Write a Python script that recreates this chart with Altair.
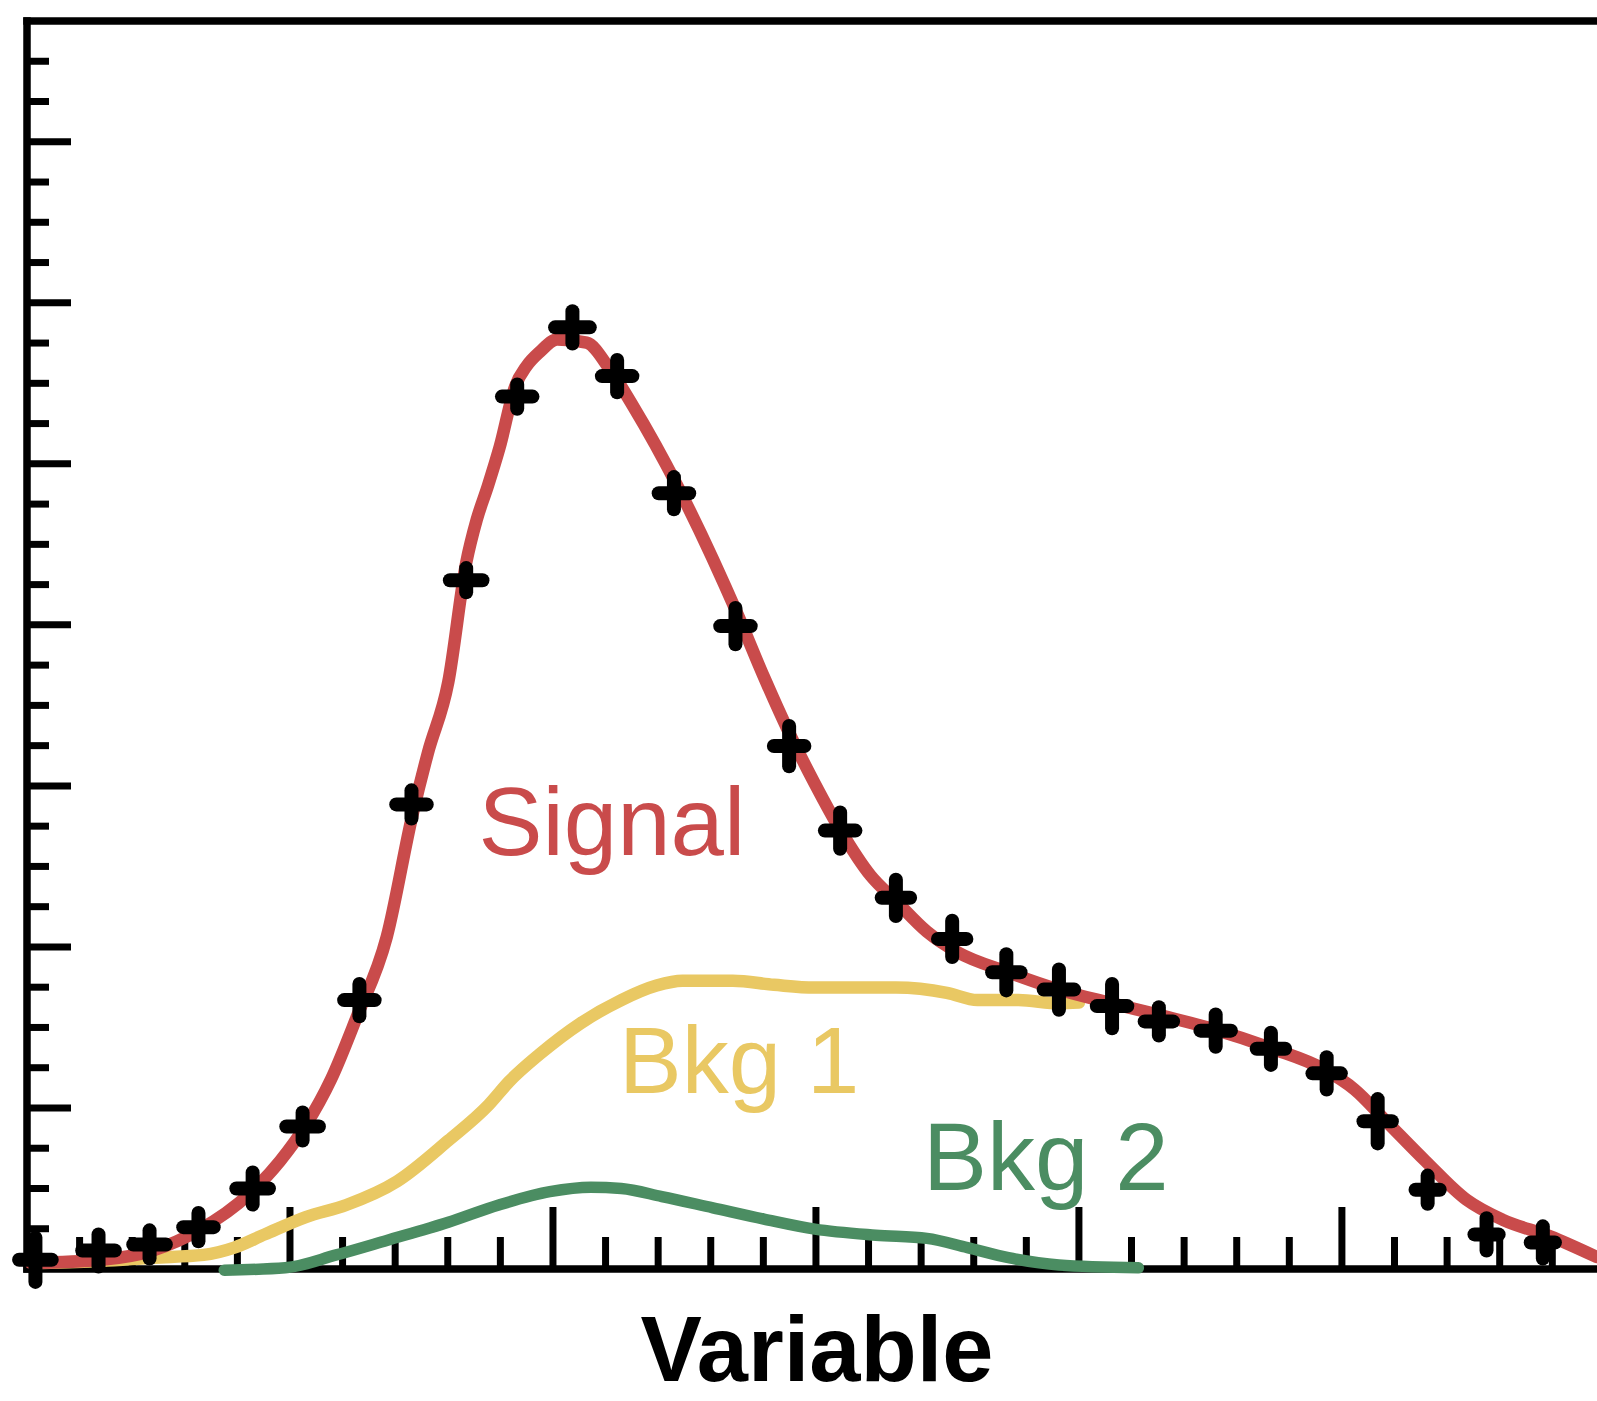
import altair as alt
import pandas as pd

# ---------------- data ----------------
X_MAX = 29.85
Y_MAX = 31.0

signal_x = [0.07, 1.42, 2.39, 3.26, 4.23, 4.81, 5.30, 5.78, 6.26, 6.84, 7.33, 7.62, 8.01,
            8.35, 8.55, 8.76, 8.99, 9.28, 9.50, 9.75, 10.08, 10.64, 11.08, 11.53, 12.37,
            13.52, 14.01, 14.49, 14.98, 15.46, 16.04, 16.52, 17.11, 17.69, 18.66,
            19.62, 20.59, 21.56, 22.53, 23.69, 24.66, 25.24, 25.82, 26.59, 27.37, 28.06,
            28.96, 29.84]
signal_y = [0.15, 0.23, 0.46, 0.96, 1.87, 2.68, 3.57, 4.71, 6.23, 8.25, 11.29, 12.81, 14.58,
            17.54, 18.61, 19.44, 20.43, 21.92, 22.43, 22.78, 23.09, 23.01, 22.35, 21.42, 19.44,
            16.23, 14.71, 13.32, 12.05, 10.91, 9.77, 9.14, 8.38, 7.87, 7.37,
            6.94, 6.61, 6.30, 5.97, 5.47, 4.96, 4.46, 3.70, 2.68, 1.72, 1.22,
            0.81, 0.30]

bkg1_x = [0.26, 1.42, 2.39, 3.36, 3.94, 4.52, 5.30, 6.07, 7.04, 8.01, 8.78, 9.17, 9.75,
          10.52, 11.30, 11.97, 12.46, 13.42, 14.20, 14.97, 16.52, 17.49, 18.07, 18.85,
          19.62, 20.00]
bkg1_y = [0.15, 0.20, 0.28, 0.35, 0.53, 0.86, 1.29, 1.59, 2.18, 3.19, 4.08, 4.66, 5.34,
          6.10, 6.68, 7.04, 7.16, 7.16, 7.06, 6.99, 6.99, 6.86, 6.68, 6.68,
          6.60, 6.62]

bkg2_x = [3.75, 4.91, 5.88, 6.84, 8.01, 8.97, 9.94, 10.72, 11.30, 12.07, 13.04, 14.01,
          14.98, 16.14, 17.11, 17.88, 18.66, 19.62, 21.13]
bkg2_y = [-0.03, 0.03, 0.35, 0.71, 1.16, 1.59, 1.92, 2.03, 2.00, 1.80, 1.52, 1.24,
          0.99, 0.84, 0.76, 0.53, 0.28, 0.10, 0.03]

data_x = [0.16, 1.36, 2.33, 3.26, 4.29, 5.24, 6.32, 7.31, 8.35, 9.32, 10.37, 11.22, 12.30,
          13.47, 14.49, 15.46, 16.52, 17.59, 18.62, 19.62, 20.63, 21.52, 22.60, 23.65,
          24.71, 25.68, 26.63, 27.75, 28.82]
data_y = [0.23, 0.46, 0.61, 1.04, 2.00, 3.54, 6.68, 11.54, 17.11, 21.67, 23.39, 22.18, 19.27,
          15.97, 12.99, 10.89, 9.22, 8.20, 7.37, 6.94, 6.53, 6.15, 5.92, 5.47,
          4.86, 3.67, 1.97, 0.86, 0.66]
data_xerr = [0.31, 0.31, 0.31, 0.29, 0.31, 0.31, 0.29, 0.29, 0.31, 0.29, 0.33, 0.29, 0.29,
             0.29, 0.29, 0.29, 0.27, 0.27, 0.27, 0.29, 0.29, 0.27, 0.29, 0.27,
             0.27, 0.27, 0.23, 0.23, 0.23]
data_yerr = [0.55, 0.40, 0.35, 0.35, 0.40, 0.35, 0.40, 0.35, 0.30, 0.30, 0.40, 0.40, 0.40,
             0.45, 0.50, 0.45, 0.45, 0.45, 0.45, 0.50, 0.55, 0.35, 0.40, 0.40,
             0.40, 0.55, 0.35, 0.40, 0.40]

x_ticks_minor = [t for t in range(1, 30) if t % 5 != 0]
x_ticks_major = [5, 10, 15, 20, 25]
y_ticks_minor = [t for t in range(1, 31) if t % 4 != 0]
y_ticks_major = [4, 8, 12, 16, 20, 24, 28]

labels = ["Signal", "Bkg 1", "Bkg 2"]
label_x = [11.12, 13.54, 19.37]
label_y = [10.29, 4.37, 1.96]
axis_title = "Variable"
axis_title_x = 15.02
axis_title_y = -2.78

RED = "#C94B4B"
YELLOW = "#E9C863"
GREEN = "#4B8D62"
FONT = "Liberation Sans"

# ---------------- scales ----------------
xs = alt.Scale(domain=[0, X_MAX], nice=False, zero=False)
ys = alt.Scale(domain=[0, Y_MAX], nice=False, zero=False)


def X(field):
    return alt.X(field, type="quantitative", scale=xs, axis=None)


def Y(field):
    return alt.Y(field, type="quantitative", scale=ys, axis=None)


# ---------------- frame ----------------
frame = pd.DataFrame({
    "x": [0, 0, 0],
    "x2": [0, X_MAX, X_MAX],
    "y": [0, Y_MAX, 0],
    "y2": [Y_MAX, Y_MAX, 0],
})
frame_layer = alt.Chart(frame).mark_rule(color="black", strokeWidth=7.5, strokeCap="square").encode(
    x=X("x"), x2="x2", y=Y("y"), y2="y2")

xt_minor = pd.DataFrame({"pos": x_ticks_minor, "base": 0})
xt_major = pd.DataFrame({"pos": x_ticks_major, "base": 0})
yt_minor = pd.DataFrame({"pos": y_ticks_minor, "base": 0})
yt_major = pd.DataFrame({"pos": y_ticks_major, "base": 0})

xtick_minor_layer = alt.Chart(xt_minor).mark_rule(color="black", strokeWidth=7, y2Offset=-32).encode(
    x=X("pos"), y=Y("base"), y2="base")
xtick_major_layer = alt.Chart(xt_major).mark_rule(color="black", strokeWidth=7, y2Offset=-62).encode(
    x=X("pos"), y=Y("base"), y2="base")
ytick_minor_layer = alt.Chart(yt_minor).mark_rule(color="black", strokeWidth=7, x2Offset=22).encode(
    y=Y("pos"), x=X("base"), x2="base")
ytick_major_layer = alt.Chart(yt_major).mark_rule(color="black", strokeWidth=7, x2Offset=44).encode(
    y=Y("pos"), x=X("base"), x2="base")

# ---------------- curves ----------------
def curve(xv, yv, color, width):
    df = pd.DataFrame({"x": xv, "y": yv, "o": range(len(xv))})
    return alt.Chart(df).mark_line(color=color, strokeWidth=width, strokeCap="round",
                                   strokeJoin="round", interpolate="monotone").encode(
        x=X("x"), y=Y("y"), order="o:Q")


bkg1_layer = curve(bkg1_x, bkg1_y, YELLOW, 12.5)
bkg2_layer = curve(bkg2_x, bkg2_y, GREEN, 11.5)
sig_layer = curve(signal_x, signal_y, RED, 12.5)

# ---------------- data points with error bars ----------------
pts = pd.DataFrame({"x": data_x, "y": data_y, "xe": data_xerr, "ye": data_yerr})
pts["xlo"] = pts["x"] - pts["xe"]
pts["xhi"] = pts["x"] + pts["xe"]
pts["ylo"] = pts["y"] - pts["ye"]
pts["yhi"] = pts["y"] + pts["ye"]

hbar = alt.Chart(pts).mark_rule(color="black", strokeWidth=14, strokeCap="round").encode(
    x=X("xlo"), x2="xhi", y=Y("y"))
vbar = alt.Chart(pts).mark_rule(color="black", strokeWidth=14, strokeCap="round").encode(
    x=X("x"), y=Y("ylo"), y2="yhi")

# ---------------- text ----------------
def label(text, xv, yv, color, size, weight="normal"):
    df = pd.DataFrame({"x": [xv], "y": [yv], "t": [text]})
    return alt.Chart(df).mark_text(font=FONT, fontSize=size, fontWeight=weight, color=color,
                                   align="center", baseline="alphabetic").encode(
        x=X("x"), y=Y("y"), text="t:N")


sig_text = label(labels[0], label_x[0], label_y[0], RED, 96)
b1_text = label(labels[1], label_x[1], label_y[1], YELLOW, 94)
b2_text = label(labels[2], label_x[2], label_y[2], GREEN, 96)
title_text = label(axis_title, axis_title_x, axis_title_y, "black", 92, "bold")

chart = alt.layer(
    frame_layer, xtick_minor_layer, xtick_major_layer, ytick_minor_layer, ytick_major_layer,
    bkg1_layer, bkg2_layer, sig_layer, hbar, vbar,
    sig_text, b1_text, b2_text, title_text,
).properties(
    width=1570, height=1248,
    autosize=alt.AutoSizeParams(type="none"),
    padding={"left": 27, "top": 21, "right": 0, "bottom": 132},
    background="white",
).configure_view(stroke=None)

chart.save("out.html", embed_options={"renderer": "svg", "actions": False})
